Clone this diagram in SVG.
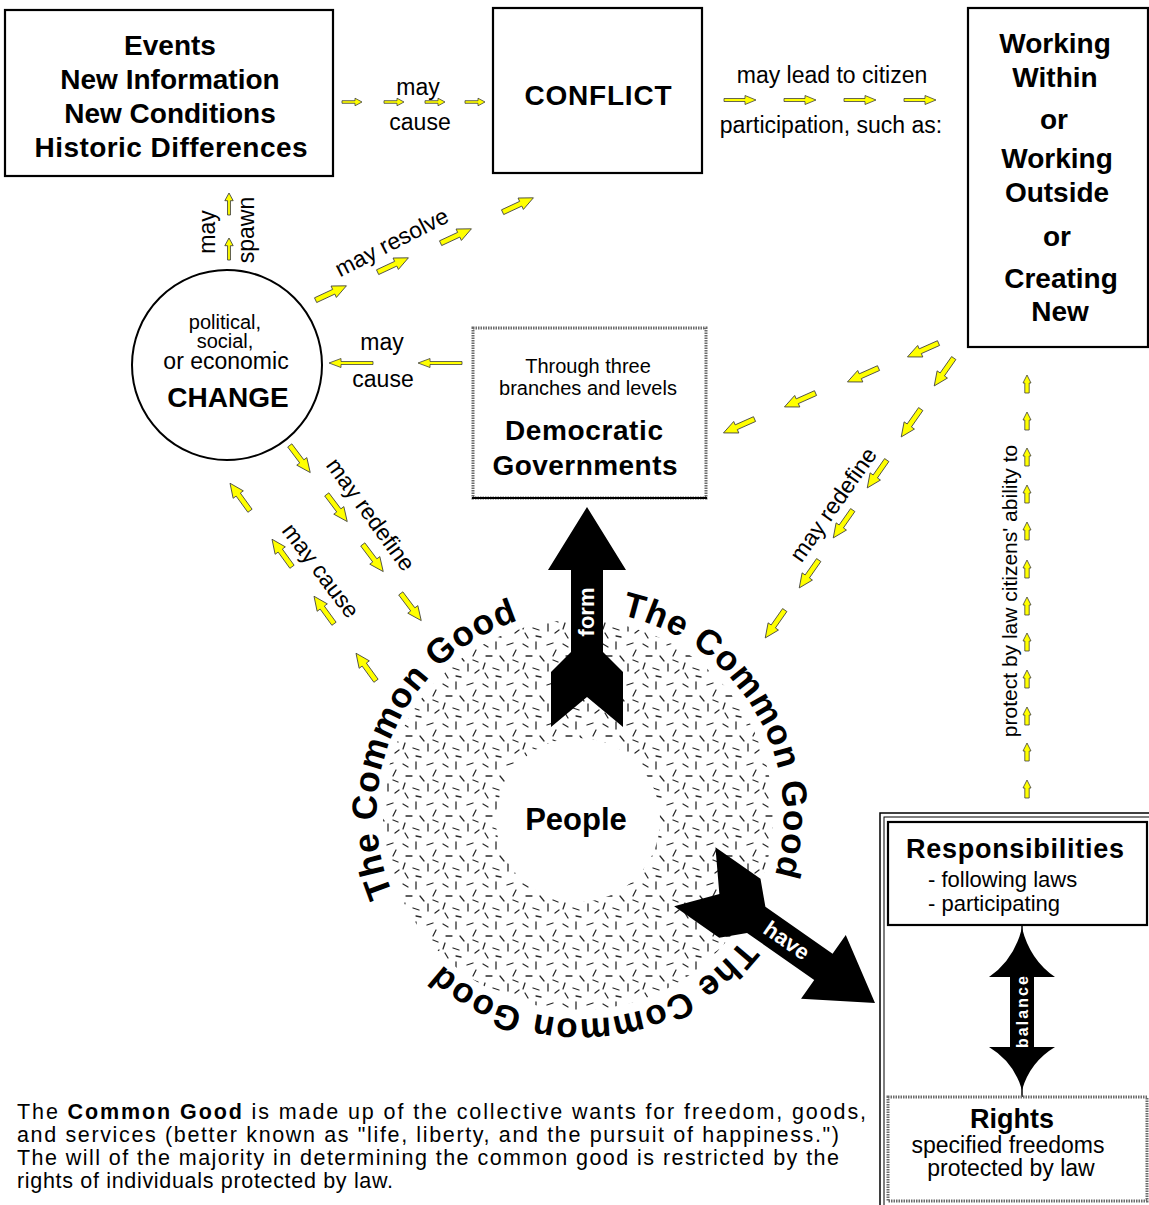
<svg xmlns="http://www.w3.org/2000/svg" xmlns:xlink="http://www.w3.org/1999/xlink" width="1149" height="1205" viewBox="0 0 1149 1205">
<style>
text{font-family:"Liberation Sans",Arial,Helvetica,sans-serif;fill:#000}
.t{font-size:28px;font-weight:bold;text-anchor:middle}
.l{font-size:23px;text-anchor:middle}
.s{font-size:20px;text-anchor:middle}
.p{font-size:21.5px}
.cg{font-size:35px;font-weight:bold;letter-spacing:1px}
.w{fill:#fff;font-weight:bold;text-anchor:middle}
.box{fill:#fff;stroke:#000;stroke-width:2.2}
.gbox{fill:#fff;stroke:#6a6a6a;stroke-width:3;stroke-dasharray:1.5 1}
.ya{fill:#ffff00;stroke:#404040;stroke-width:0.8;stroke-linejoin:round}
.blk{fill:#000}
</style>
<defs>
<path id="ya1" class="ya" d="M-10,-1.3 H3 V-3.8 L10,0 L3,3.8 V1.3 H-10 Z"/>
<path id="ya2" class="ya" d="M-16,-1.5 H5 V-4.5 L16,0 L5,4.5 V1.5 H-16 Z"/>
<path id="ya3" class="ya" d="M-22,-1.5 H10 V-4.5 L22,0 L10,4.5 V1.5 H-22 Z"/>
<path id="ya4" class="ya" d="M-17,-2.6 H3 V-6.3 L17,0 L3,6.3 V2.6 H-17 Z"/>
<path id="ya5" class="ya" d="M-9,-2.2 H1 V-4 L9,0 L1,4 V2.2 H-9 Z"/>
<path id="bigarrow" d="M0,0 L39,63 L16,63 L16,145 L36,165 L36,220 L0,190 L-36,220 L-36,165 L-16,145 L-16,63 L-39,63 Z"/>
<pattern id="stip" width="40" height="40" patternUnits="userSpaceOnUse">
<path d="M3,4 l5,3 M16,2 v7 M27,5 l6,-2 M36,10 l-3,6 M6,16 h6 M20,16 l4,5 M3,29 l2,-6 M13,28 l6,2 M28,24 v7 M35,33 l4,-3 M21,37 l-5,-1 M33,20 l5,2 M8,38 l-3,-5" stroke="#2a2a2a" stroke-width="1.3" fill="none" stroke-linecap="round"/>
</pattern>
<path id="cgpath" d="M404.2,916.5 A203,203 0 1,1 755.8,713.5 A203,203 0 1,1 404.2,916.5"/>
</defs>

<g id="connectors">
<use href="#ya1" transform="translate(352,102)"/>
<use href="#ya1" transform="translate(394,102)"/>
<use href="#ya1" transform="translate(435,102)"/>
<use href="#ya1" transform="translate(475,102)"/>
<text class="l" x="418" y="95">may</text>
<text class="l" x="420" y="130">cause</text>
<use href="#ya2" transform="translate(740,100)"/>
<use href="#ya2" transform="translate(800,100)"/>
<use href="#ya2" transform="translate(860,100)"/>
<use href="#ya2" transform="translate(920,100)"/>
<text class="l" x="832" y="83">may lead to citizen</text>
<text class="l" x="831" y="133">participation, such as:</text>
<use href="#ya1" transform="translate(229,204) rotate(-90) scale(1.1)"/>
<use href="#ya1" transform="translate(229,249) rotate(-90) scale(1.1)"/>
<text class="l" transform="translate(215,232) rotate(-90)">may</text>
<text class="l" transform="translate(254,230) rotate(-90)">spawn</text>
<use href="#ya4" transform="translate(331,293) rotate(-25)"/>
<use href="#ya4" transform="translate(393,265) rotate(-25)"/>
<use href="#ya4" transform="translate(456,236) rotate(-25)"/>
<use href="#ya4" transform="translate(518,205) rotate(-25)"/>
<text class="l" transform="translate(392,243) rotate(-27)" y="7">may resolve</text>
<use href="#ya3" transform="translate(351,363) rotate(180)"/>
<use href="#ya3" transform="translate(440,363) rotate(180)"/>
<text class="l" x="382" y="350">may</text>
<text class="l" x="383" y="387">cause</text>
<use href="#ya4" transform="translate(739,426) rotate(156)"/>
<use href="#ya4" transform="translate(800,400) rotate(156)"/>
<use href="#ya4" transform="translate(863,375) rotate(156)"/>
<use href="#ya4" transform="translate(923,350) rotate(156)"/>
<use href="#ya4" transform="translate(944,372) rotate(125)"/>
<use href="#ya4" transform="translate(911,423) rotate(125)"/>
<use href="#ya4" transform="translate(877,474) rotate(125)"/>
<use href="#ya4" transform="translate(843,524) rotate(125)"/>
<use href="#ya4" transform="translate(809,574) rotate(125)"/>
<use href="#ya4" transform="translate(775,624) rotate(125)"/>
<text class="l" transform="translate(834,505) rotate(-55)" y="7">may redefine</text>
<use href="#ya4" transform="translate(300,459) rotate(53)"/>
<use href="#ya4" transform="translate(337,508) rotate(53)"/>
<use href="#ya4" transform="translate(373,558) rotate(53)"/>
<use href="#ya4" transform="translate(411,607) rotate(53)"/>
<text class="l" transform="translate(370,515) rotate(54)" y="7">may redefine</text>
<use href="#ya4" transform="translate(240,497) rotate(234)"/>
<use href="#ya4" transform="translate(282,553) rotate(234)"/>
<use href="#ya4" transform="translate(324,610) rotate(234)"/>
<use href="#ya4" transform="translate(366,667) rotate(234)"/>
<text class="l" transform="translate(320,571) rotate(53)" y="7">may cause</text>
<use href="#ya5" transform="translate(1027,384) rotate(-90)"/>
<use href="#ya5" transform="translate(1027,421) rotate(-90)"/>
<use href="#ya5" transform="translate(1027,457) rotate(-90)"/>
<use href="#ya5" transform="translate(1027,494) rotate(-90)"/>
<use href="#ya5" transform="translate(1027,531) rotate(-90)"/>
<use href="#ya5" transform="translate(1027,569) rotate(-90)"/>
<use href="#ya5" transform="translate(1027,606) rotate(-90)"/>
<use href="#ya5" transform="translate(1027,642) rotate(-90)"/>
<use href="#ya5" transform="translate(1027,679) rotate(-90)"/>
<use href="#ya5" transform="translate(1027,716) rotate(-90)"/>
<use href="#ya5" transform="translate(1027,752) rotate(-90)"/>
<use href="#ya5" transform="translate(1027,789) rotate(-90)"/>
<text class="l" style="font-size:21px" transform="translate(1017,591) rotate(-90)">protect by law citizens' ability to</text>
</g>

<g id="events">
<rect class="box" x="5" y="10" width="328" height="166"/>
<text class="t" x="170" y="55">Events</text>
<text class="t" x="170" y="89">New Information</text>
<text class="t" x="170" y="123">New Conditions</text>
<text class="t" x="171" y="157" textLength="273">Historic Differences</text>
</g>

<g id="conflict">
<rect class="box" x="493" y="8" width="209" height="165"/>
<text class="t" x="598" y="105" textLength="147">CONFLICT</text>
</g>

<g id="working">
<rect class="box" x="968" y="8" width="180" height="339"/>
<text class="t" x="1055" y="53">Working</text>
<text class="t" x="1055" y="87">Within</text>
<text class="t" x="1054" y="129">or</text>
<text class="t" x="1057" y="168">Working</text>
<text class="t" x="1057" y="202">Outside</text>
<text class="t" x="1057" y="246">or</text>
<text class="t" x="1061" y="288">Creating</text>
<text class="t" x="1060" y="321">New</text>
</g>

<g id="change">
<circle cx="227" cy="365" r="95" fill="#fff" stroke="#000" stroke-width="2"/>
<text class="l" style="font-size:20px" x="225" y="329">political,</text>
<text class="l" style="font-size:20px" x="225" y="348">social,</text>
<text class="l" x="226" y="369">or economic</text>
<text class="t" x="228" y="407">CHANGE</text>
</g>

<g id="democratic-governments">
<rect class="gbox" x="473" y="328" width="233" height="170"/>
<line x1="472" y1="498" x2="707" y2="498" stroke="#000" stroke-width="2"/>
<text class="s" x="588" y="373">Through three</text>
<text class="s" x="588" y="395">branches and levels</text>
<text class="t" x="584" y="440" textLength="158">Democratic</text>
<text class="t" x="585" y="475" textLength="185">Governments</text>
</g>

<g id="people">
<path d="M773,815 A195,195 0 1,0 383,815 A195,195 0 1,0 773,815 Z M660,820 A82,82 0 1,0 496,820 A82,82 0 1,0 660,820 Z" fill="url(#stip)" fill-rule="evenodd"/>
<text class="t" style="font-size:31px" x="576" y="830">People</text>
<text class="cg"><textPath href="#cgpath" startOffset="25">The Common Good</textPath></text>
<text class="cg"><textPath href="#cgpath" startOffset="468">The Common Good</textPath></text>
<text class="cg"><textPath href="#cgpath" startOffset="879">The Common Good</textPath></text>
</g>

<g id="form-arrow">
<use href="#bigarrow" class="blk" transform="translate(587,507)"/>
<text class="w" style="font-size:22px" transform="translate(586,612) rotate(-90)" y="8">form</text>
</g>

<g id="have-arrow">
<use href="#bigarrow" class="blk" transform="translate(875,1003) rotate(125)"/>
<text class="w" style="font-size:22px" transform="translate(787,940) rotate(35)" y="8">have</text>
</g>

<g id="responsibilities-rights">
<rect x="880" y="813" width="300" height="420" fill="none" stroke="#000" stroke-width="1.5"/>
<rect x="884" y="817" width="300" height="420" fill="none" stroke="#000" stroke-width="1"/>
<g id="responsibilities">
<rect class="box" x="888" y="822" width="259" height="103"/>
<text class="t" style="font-size:27px" x="1015" y="858" textLength="218">Responsibilities</text>
<text class="l" style="text-anchor:start;font-size:22px" x="928" y="887">- following laws</text>
<text class="l" style="text-anchor:start;font-size:22px" x="928" y="911">- participating</text>
</g>
<g id="balance">
<line x1="1022" y1="925" x2="1022" y2="1097" stroke="#000" stroke-width="1.5"/>
<path class="blk" d="M1022,928 Q1030,960 1055,977 L1034,977 L1034,1047 L1055,1047 Q1030,1062 1022,1090 Q1014,1062 989,1047 L1010,1047 L1010,977 L989,977 Q1014,960 1022,928 Z"/>
<text class="w" style="font-size:16px" transform="translate(1022,1012) rotate(-90)" y="6" textLength="72">balance</text>
</g>
<g id="rights">
<rect class="gbox" x="888" y="1097" width="259" height="104"/>
<text class="t" style="font-size:27px" x="1012" y="1128">Rights</text>
<text class="l" x="1008" y="1153">specified freedoms</text>
<text class="l" x="1011" y="1176">protected by law</text>
</g>
</g>

<g id="caption">
<text class="p" x="17" y="1119" textLength="849">The <tspan font-weight="bold">Common Good</tspan> is made up of the collective wants for freedom, goods,</text>
<text class="p" x="17" y="1142" textLength="822">and services (better known as "life, liberty, and the pursuit of happiness.")</text>
<text class="p" x="17" y="1165" textLength="822">The will of the majority in determining the common good is restricted by the</text>
<text class="p" x="17" y="1188" textLength="376">rights of individuals protected by law.</text>
</g>
</svg>
